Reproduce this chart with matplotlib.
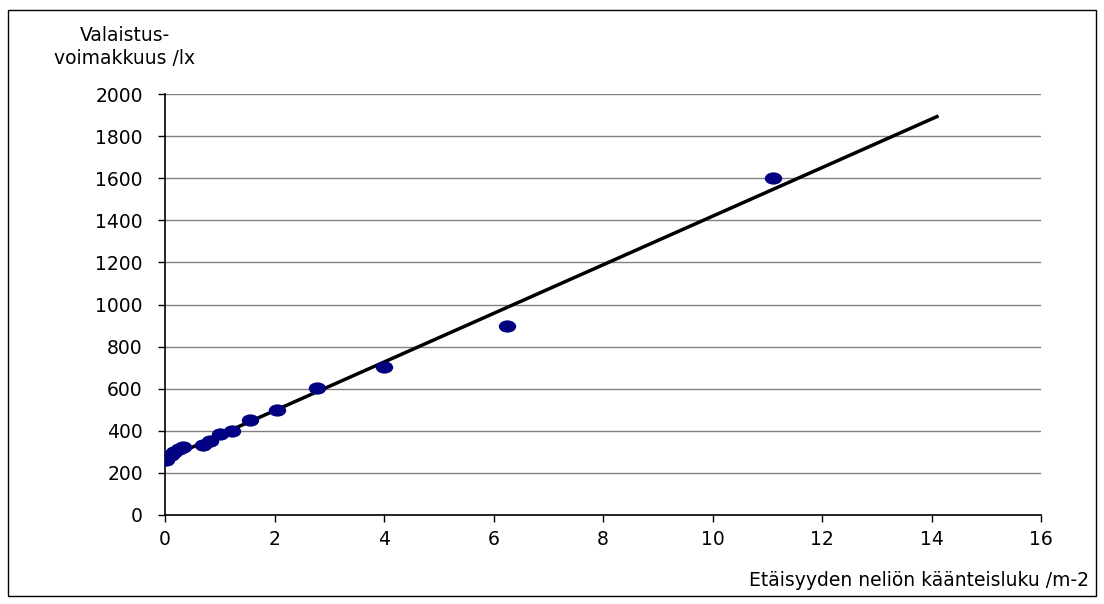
import numpy as np
import matplotlib
matplotlib.use('Agg')
import matplotlib.pyplot as plt
from matplotlib.markers import MarkerStyle
from matplotlib.transforms import Affine2D
from matplotlib.patches import Rectangle

# wide sans to mimic the letter-spaced Arial of the original export
plt.rcParams['font.family'] = ['DejaVu Sans']

# inverse square of distance (1/m^2) and illuminance (lx)
inv_dist2 = [0.01, 0.11, 0.16, 0.25, 0.33, 0.69, 0.83, 1.0, 1.23, 1.56, 2.04, 2.78, 4.0, 6.25, 11.11]
lux = [262, 285, 300, 312, 322, 332, 352, 385, 400, 450, 500, 603, 703, 900, 1600]
trend_end = 14.1
xticks = [0, 2, 4, 6, 8, 10, 12, 14, 16]
yticks = [0, 200, 400, 600, 800, 1000, 1200, 1400, 1600, 1800, 2000]

fig = plt.figure(figsize=(11.04, 6.04), dpi=100)
fig.patches.append(Rectangle((8 / 1104, 8 / 604), 1088 / 1104, 586 / 604,
                             transform=fig.transFigure, fill=False,
                             edgecolor='black', linewidth=1))
ax = fig.add_axes([165 / 1104, 1 - 515 / 604, 876 / 1104, 421 / 604])

k, b = np.polyfit(inv_dist2, lux, 1)
xs = np.array([0, trend_end])
ax.plot(xs, k * xs + b, color='black', linewidth=2.5, zorder=3)

oval = MarkerStyle('o', transform=Affine2D().scale(1.42, 1.0))
ax.scatter(inv_dist2, lux, marker=oval, s=78, color='#000080', zorder=4, linewidths=0)

ax.set_xlim(0, 16)
ax.set_ylim(0, 2000)
ax.set_xticks(xticks)
ax.set_yticks(yticks)
ax.grid(axis='y', color='#808080', linewidth=1)
ax.set_axisbelow(True)
for s in ['top', 'right']:
    ax.spines[s].set_visible(False)
for s in ['left', 'bottom']:
    ax.spines[s].set_linewidth(1.2)
ax.tick_params(labelsize=13.5, length=5, width=1, direction='out')
ax.tick_params(axis='y', pad=11)
ax.tick_params(axis='x', pad=6)

fig.text(125 / 1104, 1 - 47 / 604, 'Valaistus-\nvoimakkuus /lx', ha='center', va='center',
         fontsize=13.5, linespacing=1.25)
fig.text(1089 / 1104, 1 - 580 / 604, 'Etäisyyden neliön käänteisluku /m-2', ha='right',
         va='center', fontsize=13.5)

fig.savefig('out.png', dpi=100)
